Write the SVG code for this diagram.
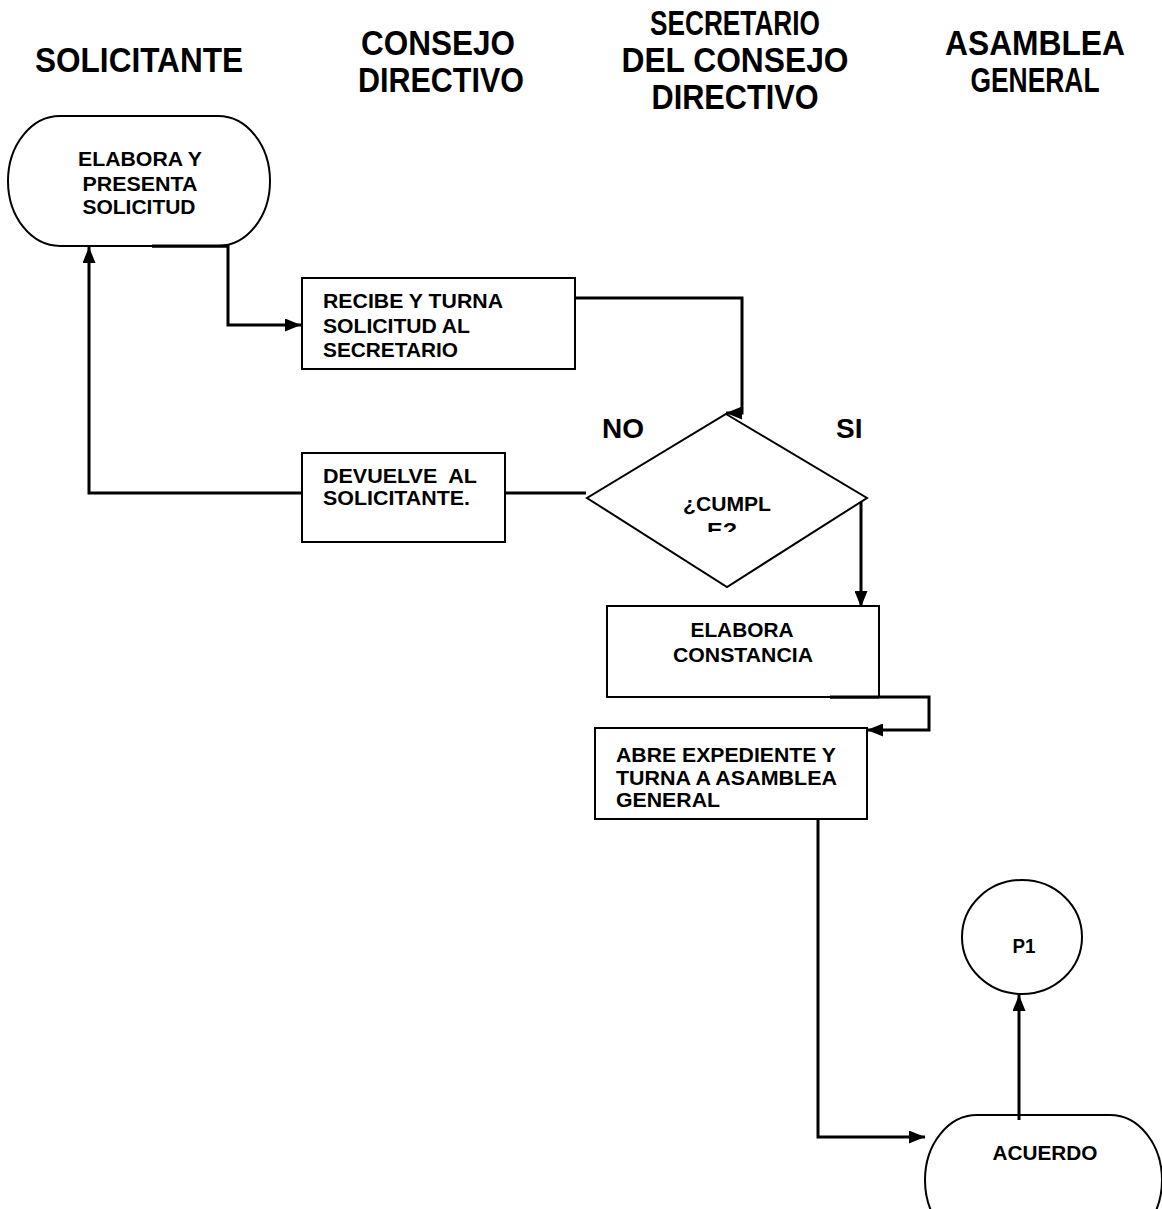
<svg xmlns="http://www.w3.org/2000/svg" width="1162" height="1209" viewBox="0 0 1162 1209">
  <style>
    .hdr { font-family: "Liberation Sans", Arial, sans-serif; font-weight: bold; font-size: 35px; fill: #000; }
    .lbl { font-family: "Liberation Sans", Arial, sans-serif; font-weight: bold; font-size: 20px; fill: #000; white-space: pre; }
    .yn { font-family: "Liberation Sans", Arial, sans-serif; font-weight: bold; font-size: 28px; fill: #000; }
    .shape { fill: #fff; stroke: #000; stroke-width: 2; }
    .conn { fill: none; stroke: #000; stroke-width: 3; }
  </style>
  <defs>
    <marker id="arrow" viewBox="0 0 16 13" refX="16" refY="6.5" markerWidth="16" markerHeight="13" markerUnits="userSpaceOnUse" orient="auto">
      <path d="M0,0 L16,6.5 L0,13 z" fill="#000"/>
    </marker>
    <clipPath id="diamondText">
      <rect x="640" y="480" width="180" height="52"/>
    </clipPath>
  </defs>
  <rect width="1162" height="1209" fill="#fff"/>

  <!-- swimlane headings -->
  <g id="headers">
    <text class="hdr" x="139" y="72" text-anchor="middle" textLength="208" lengthAdjust="spacingAndGlyphs">SOLICITANTE</text>
    <text class="hdr" x="438" y="55" text-anchor="middle" textLength="154" lengthAdjust="spacingAndGlyphs">CONSEJO</text>
    <text class="hdr" x="441" y="92" text-anchor="middle" textLength="166" lengthAdjust="spacingAndGlyphs">DIRECTIVO</text>
    <text class="hdr" x="735" y="35" text-anchor="middle" textLength="170" lengthAdjust="spacingAndGlyphs">SECRETARIO</text>
    <text class="hdr" x="735" y="72" text-anchor="middle" textLength="227" lengthAdjust="spacingAndGlyphs">DEL CONSEJO</text>
    <text class="hdr" x="735" y="109" text-anchor="middle" textLength="167" lengthAdjust="spacingAndGlyphs">DIRECTIVO</text>
    <text class="hdr" x="1035" y="55" text-anchor="middle" textLength="180" lengthAdjust="spacingAndGlyphs">ASAMBLEA</text>
    <text class="hdr" x="1035" y="92" text-anchor="middle" textLength="129" lengthAdjust="spacingAndGlyphs">GENERAL</text>
  </g>

  <!-- connectors -->
  <g id="connectors">
    <path class="conn" d="M152,246 H228 V325 H301" marker-end="url(#arrow)"/>
    <path class="conn" d="M575,298 H742 V413 H726" marker-end="url(#arrow)"/>
    <path class="conn" d="M586,493 H505"/>
    <path class="conn" d="M302,493 H89 V247" marker-end="url(#arrow)"/>
    <path class="conn" d="M861,496 V607" marker-end="url(#arrow)"/>
    <path class="conn" d="M830,697 H929 V730 H867" marker-end="url(#arrow)"/>
    <path class="conn" d="M818,819 V1137 H925" marker-end="url(#arrow)"/>
    <path class="conn" d="M1019,1115 V995" marker-end="url(#arrow)"/>
  </g>

  <!-- start terminal -->
  <g id="node-elabora-solicitud">
    <rect class="shape" x="8" y="116" width="262" height="130" rx="52" ry="65"/>
    <path class="conn" d="M152,246 H228"/>
    <text class="lbl" x="140" y="166" text-anchor="middle" textLength="124" lengthAdjust="spacingAndGlyphs">ELABORA Y</text>
    <text class="lbl" x="140" y="191" text-anchor="middle" textLength="115" lengthAdjust="spacingAndGlyphs">PRESENTA</text>
    <text class="lbl" x="139" y="214" text-anchor="middle" textLength="113" lengthAdjust="spacingAndGlyphs">SOLICITUD</text>
  </g>

  <g id="node-recibe">
    <rect class="shape" x="302" y="278" width="273" height="91"/>
    <text class="lbl" x="323" y="308" textLength="180" lengthAdjust="spacingAndGlyphs">RECIBE Y TURNA</text>
    <text class="lbl" x="323" y="333" textLength="147" lengthAdjust="spacingAndGlyphs">SOLICITUD AL</text>
    <text class="lbl" x="323" y="357" textLength="135" lengthAdjust="spacingAndGlyphs">SECRETARIO</text>
  </g>

  <g id="node-cumple">
    <polygon class="shape" points="726,414 867,498 727,587 587,498"/>
    <g clip-path="url(#diamondText)">
      <text class="lbl" x="727" y="511" text-anchor="middle" textLength="88" lengthAdjust="spacingAndGlyphs">¿CUMPL</text>
      <text class="lbl" x="722" y="537" text-anchor="middle" textLength="30" lengthAdjust="spacingAndGlyphs">E?</text>
    </g>
    <text class="yn" x="602" y="438">NO</text>
    <text class="yn" x="836" y="438">SI</text>
  </g>

  <g id="node-devuelve">
    <rect class="shape" x="302" y="453" width="203" height="89"/>
    <text class="lbl" x="323" y="483" textLength="154" lengthAdjust="spacingAndGlyphs">DEVUELVE  AL</text>
    <text class="lbl" x="323" y="505" textLength="147" lengthAdjust="spacingAndGlyphs">SOLICITANTE.</text>
  </g>

  <g id="node-constancia">
    <rect class="shape" x="607" y="606" width="272" height="91"/>
    <path class="conn" d="M830,697 H879"/>
    <text class="lbl" x="742" y="637" text-anchor="middle" textLength="103" lengthAdjust="spacingAndGlyphs">ELABORA</text>
    <text class="lbl" x="743" y="662" text-anchor="middle" textLength="140" lengthAdjust="spacingAndGlyphs">CONSTANCIA</text>
  </g>

  <g id="node-expediente">
    <rect class="shape" x="595" y="728" width="272" height="91"/>
    <text class="lbl" x="616" y="762" textLength="220" lengthAdjust="spacingAndGlyphs">ABRE EXPEDIENTE Y</text>
    <text class="lbl" x="616" y="785" textLength="221" lengthAdjust="spacingAndGlyphs">TURNA A ASAMBLEA</text>
    <text class="lbl" x="616" y="807" textLength="104" lengthAdjust="spacingAndGlyphs">GENERAL</text>
  </g>

  <g id="node-p1">
    <ellipse class="shape" cx="1022" cy="937" rx="60" ry="57"/>
    <text class="lbl" x="1024" y="953" text-anchor="middle" textLength="23" lengthAdjust="spacingAndGlyphs">P1</text>
  </g>

  <g id="node-acuerdo">
    <rect class="shape" x="925" y="1115" width="237" height="130" rx="52" ry="65"/>
    <path class="conn" d="M1019,1115 V1120"/>
    <text class="lbl" x="1045" y="1160" text-anchor="middle" textLength="105" lengthAdjust="spacingAndGlyphs">ACUERDO</text>
  </g>
</svg>
